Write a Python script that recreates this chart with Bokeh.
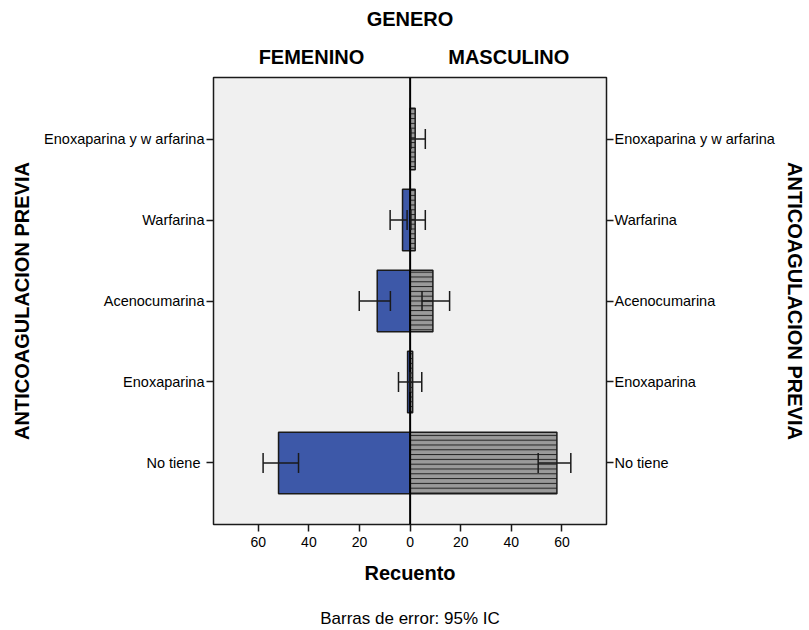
from bokeh.plotting import figure
from bokeh.models import (Range1d, LinearAxis, FixedTicker, CustomJSTickFormatter,
                          Span, Whisker, TeeHead, ColumnDataSource)
from bokeh.embed import file_html
from bokeh.resources import INLINE

# ---- data ----
categories = ["No  tiene", "Enoxaparina", "Acenocumarina", "Warfarina", "Enoxaparina y w arfarina"]
positions = [1, 2, 3, 4, 5]
femenino = [52, 1, 13, 3, 0]
masculino = [58, 1, 9, 2, 2]
fem_ci_low = [44.1, 0.1, 7.8, 1.2, 0.0]
fem_ci_high = [58.1, 4.6, 20.1, 7.9, 0.0]
mas_ci_low = [50.6, 0.1, 4.7, 0.3, 0.3]
mas_ci_high = [63.5, 4.6, 15.6, 6.0, 6.0]
x_ticks = [-60, -40, -20, 0, 20, 40, 60]

FONT = "Liberation Sans"
BLUE = "#3d58a8"
GREY = "#9a9a9a"
DARK = "#1a1a1a"

fem_src = ColumnDataSource(dict(y=positions, left=[-v for v in femenino], right=[0] * len(femenino)))
keep = [i for i in range(len(positions)) if femenino[i] > 0]
fem_err_src = ColumnDataSource(dict(y=[positions[i] for i in keep],
                                    lo=[-fem_ci_high[i] for i in keep],
                                    hi=[-fem_ci_low[i] for i in keep]))
mas_src = ColumnDataSource(dict(y=positions, left=[0] * len(masculino), right=masculino,
                                lo=mas_ci_low, hi=mas_ci_high))

p = figure(width=809, height=630, output_backend="svg", toolbar_location=None,
           x_range=Range1d(-77.7, 77.6), y_range=Range1d(0.24, 5.76),
           min_border_left=213, min_border_right=203, min_border_top=77, min_border_bottom=104)
p.background_fill_color = "#f0f0f0"
p.border_fill_color = "white"
p.outline_line_color = DARK
p.outline_line_width = 1.5
p.xgrid.visible = False
p.ygrid.visible = False

p.hbar(y="y", left="left", right="right", height=0.76, source=fem_src,
       fill_color=BLUE, line_color=DARK, line_width=1.5)
p.hbar(y="y", left="left", right="right", height=0.76, source=mas_src,
       fill_color=GREY, line_color=DARK, line_width=1.5,
       hatch_pattern="horizontal_line", hatch_color="#222222", hatch_scale=4.8, hatch_weight=1)

p.add_layout(Span(location=0, dimension="height", line_color="black", line_width=2))

for src in (fem_err_src, mas_src):
    p.add_layout(Whisker(base="y", lower="lo", upper="hi", dimension="width", source=src,
                         level="overlay", line_color=DARK, line_width=1.5,
                         upper_head=TeeHead(size=20, line_color=DARK, line_width=1.5),
                         lower_head=TeeHead(size=20, line_color=DARK, line_width=1.5)))

overrides = {pos: lab for pos, lab in zip(positions, categories)}

def style_cat_axis(ax, label_standoff, major_standoff):
    ax.ticker = FixedTicker(ticks=positions)
    ax.major_label_overrides = overrides
    ax.axis_line_color = None
    ax.major_tick_out = 7
    ax.major_tick_in = 0
    ax.major_tick_line_color = DARK
    ax.major_tick_line_width = 1.5
    ax.minor_tick_line_color = None
    ax.major_label_standoff = major_standoff
    ax.major_label_text_font = FONT
    ax.major_label_text_font_size = "14.5px"
    ax.major_label_text_color = "black"
    ax.axis_label = "ANTICOAGULACION PREVIA"
    ax.axis_label_text_font = FONT
    ax.axis_label_text_font_size = "20px"
    ax.axis_label_text_font_style = "bold"
    ax.axis_label_text_color = "black"
    ax.axis_label_standoff = label_standoff

style_cat_axis(p.yaxis[0], 8, 2)
right_ax = LinearAxis()
style_cat_axis(right_ax, 6, 1)
p.add_layout(right_ax, "right")

xa = p.xaxis[0]
xa.ticker = FixedTicker(ticks=x_ticks)
xa.formatter = CustomJSTickFormatter(code="return Math.abs(tick).toFixed(0);")
xa.axis_line_color = None
xa.major_tick_out = 7
xa.major_tick_in = 0
xa.major_tick_line_color = DARK
xa.major_tick_line_width = 1.5
xa.minor_tick_line_color = None
xa.major_label_standoff = 5
xa.major_label_text_font = FONT
xa.major_label_text_font_size = "14px"
xa.major_label_text_color = "black"
xa.axis_label = "Recuento"
xa.axis_label_text_font = FONT
xa.axis_label_text_font_size = "20px"
xa.axis_label_text_font_style = "bold"
xa.axis_label_text_color = "black"
xa.axis_label_standoff = 12

# note line below the axis title, as an empty axis carrying only a label
note_ax = LinearAxis(ticker=FixedTicker(ticks=[]))
note_ax.axis_line_color = None
note_ax.major_tick_line_color = None
note_ax.minor_tick_line_color = None
note_ax.major_tick_out = 0
note_ax.major_tick_in = 0
note_ax.major_label_text_font_size = "0px"
note_ax.major_label_standoff = 0
note_ax.axis_label = "Barras de error: 95% IC"
note_ax.axis_label_text_font = FONT
note_ax.axis_label_text_font_size = "17px"
note_ax.axis_label_text_font_style = "normal"
note_ax.axis_label_text_color = "black"
note_ax.axis_label_standoff = 22
p.add_layout(note_ax, "below")

top_ax = LinearAxis()
top_ax.ticker = FixedTicker(ticks=[-39, 39])
top_ax.major_label_overrides = {-39: "FEMENINO", 39: "MASCULINO"}
top_ax.axis_line_color = None
top_ax.major_tick_line_color = None
top_ax.minor_tick_line_color = None
top_ax.major_tick_out = 0
top_ax.major_tick_in = 0
top_ax.major_label_standoff = 10
top_ax.major_label_text_font = FONT
top_ax.major_label_text_font_size = "20px"
top_ax.major_label_text_font_style = "bold"
top_ax.major_label_text_color = "black"
top_ax.axis_label = "GENERO"
top_ax.axis_label_text_font = FONT
top_ax.axis_label_text_font_size = "20px"
top_ax.axis_label_text_font_style = "bold"
top_ax.axis_label_text_color = "black"
top_ax.axis_label_standoff = 13
p.add_layout(top_ax, "above")

open("out.html", "w").write(file_html(p, INLINE))
